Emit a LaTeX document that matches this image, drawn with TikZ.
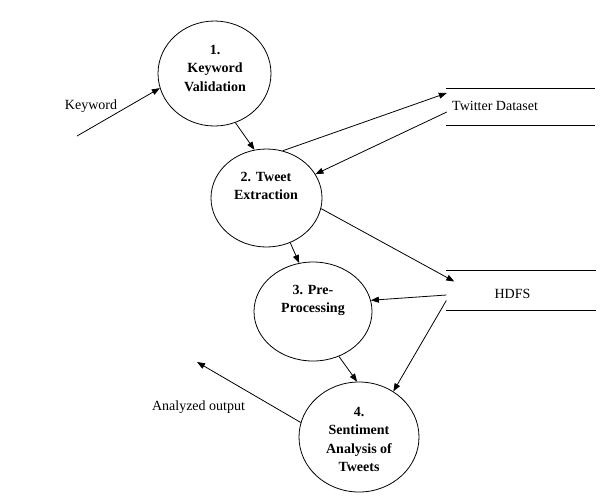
\documentclass[tikz,border=0pt]{standalone}
\usepackage{fontspec}
\setmainfont{Liberation Serif}
\usetikzlibrary{shapes.geometric,arrows.meta,calc}
\begin{document}
\begin{tikzpicture}[x=1pt,y=-1pt,
  proc/.style={draw,ellipse,line width=0.8pt,inner sep=0pt},
  ptext/.style={font=\fontsize{14}{18.5}\selectfont\bfseries,align=center,inner sep=0pt},
  lbl/.style={font=\fontsize{14}{17}\selectfont,inner sep=0pt},
  store/.style={draw=none,inner sep=0pt},
  flow/.style={line width=0.8pt,-{Triangle[length=8pt,width=6pt]}},
  sline/.style={line width=0.8pt}]
\useasboundingbox (0,0) rectangle (601,499);
% processes
\node[proc,minimum width=113,minimum height=105] (c1) at (214.5,73.5) {};
\node[proc,minimum width=111,minimum height=98] (c2) at (266.5,198) {};
\node[proc,minimum width=118,minimum height=99] (c3) at (313,311.5) {};
\node[proc,minimum width=120,minimum height=110] (c4) at (359,437) {};
\node[ptext] (t1) at (215,68) {1.\\Keyword\\Validation};
\node[ptext] (t2) at (266,186) {2. Tweet\\Extraction};
\node[ptext] (t3) at (313,300.5) {3. Pre-\\Processing};
\node[ptext] (t4) at (359,439.5) {4.\\Sentiment\\Analysis of\\Tweets};
% data stores
\node[store,minimum width=149,minimum height=36] (tw) at (520.5,107) {};
\node[store,minimum width=149,minimum height=39] (hd) at (521,290.5) {};
\draw[sline] (tw.north west) -- (tw.north east) (tw.south west) -- (tw.south east);
\draw[sline] (hd.north west) -- (hd.north east) (hd.south west) -- (hd.south east);
\node[lbl,anchor=west] (twt) at (452,106) {Twitter Dataset};
\node[lbl] (hdt) at (512.5,294) {HDFS};
% external labels
\node[lbl] (kw) at (91,106) {Keyword};
\node[lbl] (ao) at (198.5,407) {Analyzed output};
\coordinate (kin) at (77,136);
\coordinate (aout) at (197,362);
% flows
\draw[flow] (kin) -- (c1.195);
\draw[flow] (c1.-67) -- (c2.104);
\draw[flow] (c2.71) -- ($(tw.west)+(1,-14)$);
\draw[flow] ($(tw.west)+(1,5)$) -- (c2.26);
\draw[flow] (c2.-11) -- ($(hd.west)+(8,-9)$);
\draw[flow] (c2.-62) -- (c3.106);
\draw[flow] ($(hd.west)+(0,4.5)$) -- (c3.11);
\draw[flow] ($(hd.west)+(0,10)$) -- (c4.53);
\draw[flow] (c3.-60) -- (c4.92);
\draw[flow] (c4.166) -- (aout);
\end{tikzpicture}
\end{document}
